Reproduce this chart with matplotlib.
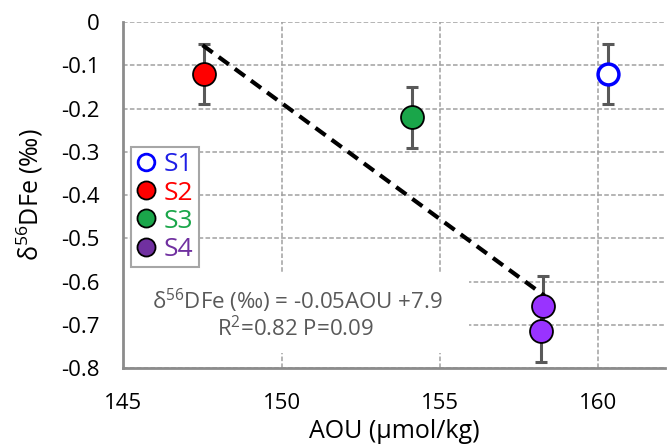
import matplotlib
matplotlib.use("Agg")
import matplotlib.pyplot as plt
from matplotlib.lines import Line2D
from matplotlib.patches import Rectangle

plt.rcParams['font.family'] = ['Open Sans', 'DejaVu Sans']
plt.rcParams['mathtext.fontset'] = 'custom'
plt.rcParams['mathtext.rm'] = 'Open Sans'
plt.rcParams['mathtext.it'] = 'Open Sans:italic'
plt.rcParams['mathtext.bf'] = 'Open Sans:bold'

# Data
s1_aou = [160.3]; s1_d = [-0.12]; s1_err = [0.07]
s2_aou = [147.55]; s2_d = [-0.12]; s2_err = [0.07]
s3_aou = [154.1]; s3_d = [-0.22]; s3_err = [0.07]
s4_aou = [158.25, 158.2]; s4_d = [-0.657, -0.715]; s4_err = [0.07, 0.07]
trend_x = [147.5, 158.3]
trend_y = [-0.053, -0.633]

xticks = [145, 150, 155, 160]
yticks = [0, -0.1, -0.2, -0.3, -0.4, -0.5, -0.6, -0.7, -0.8]
ytick_labels = ['0', '-0.1', '-0.2', '-0.3', '-0.4', '-0.5', '-0.6', '-0.7', '-0.8']

fig = plt.figure(figsize=(6.67, 4.45), dpi=100)
ax = fig.add_axes([0.185, 0.173, 0.812, 0.777])

gray_txt = '#595959'
err_col = '#595959'

# error bars
for xs, ys, es in [(s1_aou, s1_d, s1_err), (s2_aou, s2_d, s2_err),
                   (s3_aou, s3_d, s3_err), (s4_aou, s4_d, s4_err)]:
    ax.errorbar(xs, ys, yerr=es, fmt='none', ecolor=err_col, elinewidth=2.2,
                capsize=4.5, capthick=2.2, zorder=3)

# trend line
ax.plot(trend_x, trend_y, color='black', lw=3, ls=(0, (3, 1.8)), zorder=4)

ms = 16.5
ax.plot(s1_aou, s1_d, 'o', ms=15, mfc='white', mec='#0000FF', mew=2.5, ls='none', zorder=5)
ax.plot(s2_aou, s2_d, 'o', ms=ms, mfc='#FF0000', mec='black', mew=1.3, ls='none', zorder=5)
ax.plot(s3_aou, s3_d, 'o', ms=ms, mfc='#1AA64A', mec='black', mew=1.3, ls='none', zorder=5)
ax.plot(s4_aou, s4_d, 'o', ms=ms, mfc='#9933FF', mec='black', mew=1.3, ls='none', zorder=5)

# white background behind equation
ax.add_patch(Rectangle((0, 0.043), 0.638, 0.232, transform=ax.transAxes,
                       facecolor='white', edgecolor='none', zorder=2))
ax.text(0.321, 0.195, 'δ$^{56}$DFe (‰) = -0.05AOU +7.9', transform=ax.transAxes,
        ha='center', va='center', fontsize=16, color=gray_txt, zorder=6)
ax.text(0.318, 0.113, 'R$^{2}$=0.82 P=0.09', transform=ax.transAxes,
        ha='center', va='center', fontsize=16, color=gray_txt, zorder=6)

ax.set_xlim(145, 162.1)
ax.set_ylim(-0.8, 0)
ax.set_xticks(xticks)
ax.set_yticks(yticks)
ax.set_yticklabels(ytick_labels)
ax.tick_params(length=0, labelsize=16, colors='black')
ax.tick_params(axis='y', pad=17)
ax.tick_params(axis='x', pad=18)
ax.grid(True, color='#a0a0a0', ls=(0, (3, 1.5)), lw=1.1, zorder=1)
ax.set_axisbelow(True)
for s in ['top', 'right']:
    ax.spines[s].set_visible(False)
for s in ['left', 'bottom']:
    ax.spines[s].set_color('#8c8c8c')
    ax.spines[s].set_linewidth(2)

ax.set_xlabel('AOU (µmol/kg)', fontsize=18, va='center')
ax.xaxis.set_label_coords(0.5, -0.185)
ax.set_ylabel('δ$^{56}$DFe (‰)', fontsize=18, va='center')
ax.yaxis.set_label_coords(-0.172, 0.5)

handles = [
    Line2D([], [], marker='o', ls='none', ms=12, mfc='white', mec='#0000FF', mew=2),
    Line2D([], [], marker='o', ls='none', ms=13, mfc='#FF0000', mec='black', mew=1.3),
    Line2D([], [], marker='o', ls='none', ms=13, mfc='#1AA64A', mec='black', mew=1.3),
    Line2D([], [], marker='o', ls='none', ms=13, mfc='#7030A0', mec='black', mew=1.3),
]
labels = ['S1', 'S2', 'S3', 'S4']
label_colors = ['#1F1FE6', '#FF0000', '#1AA64A', '#7030A0']
leg = ax.legend(handles, labels, loc='upper left', bbox_to_anchor=(0.014, 0.639),
                fontsize=19, frameon=True, fancybox=False, framealpha=1,
                edgecolor='#a6a6a6', handlelength=0.75, handletextpad=0.3,
                labelspacing=0.12, borderpad=0.2, borderaxespad=0)
leg.get_frame().set_linewidth(1.5)
for t, c in zip(leg.get_texts(), label_colors):
    t.set_color(c)
leg.set_zorder(7)

fig.savefig('out.png', dpi=100)
